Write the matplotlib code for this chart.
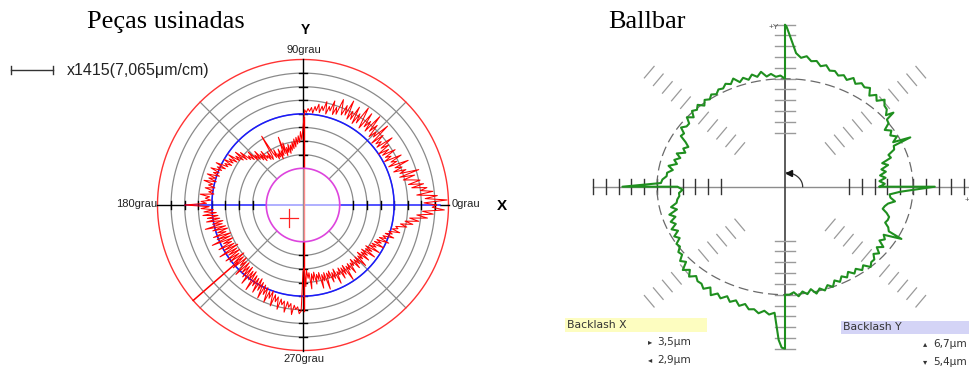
import numpy as np
import matplotlib
matplotlib.use("Agg")
import matplotlib.pyplot as plt
from matplotlib.lines import Line2D
from matplotlib.patches import Rectangle, Circle

# ---------------- data ----------------
# Left chart ("Peças usinadas"): radii in grid divisions
RING_MAGENTA = 2.7
GRID_RINGS = [3.7, 4.7, 5.7, 6.7, 7.7, 8.7, 9.7]
RING_NOMINAL = 6.7          # blue circle
RING_OUTER = 10.7           # red outer circle
LEFT_ANGLE_STEP = 1         # degrees between samples
LEFT_Q1 = [9.8, 8.9, 10.6, 9.0, 9.9, 8.4, 9.6, 8.7, 9.2, 8.1,
           9.0, 7.9, 8.8, 8.2, 7.6, 8.5, 7.4, 8.9, 7.5, 8.0,
           7.1, 7.8, 7.3, 8.4, 6.9, 7.6, 7.2, 8.1, 6.8, 7.4,
           7.0, 7.9, 6.9, 7.5, 6.7, 7.7, 7.1, 8.2, 6.9, 7.4,
           7.0, 7.8, 6.8, 8.5, 7.2, 7.6, 7.0, 8.0, 7.3, 8.6,
           7.1, 7.9, 7.3, 8.4, 7.0, 7.7, 8.6, 7.2, 7.9, 7.0,
           8.3, 7.2, 7.8, 7.1, 8.5, 7.3, 8.0, 7.2, 7.7, 8.3,
           7.1, 7.6, 7.0, 8.0, 7.2, 7.5, 6.9, 7.8, 7.1, 7.4,
           6.9, 7.5, 7.0, 7.3, 6.8, 7.2, 6.9, 7.1, 6.8, 7.0]
LEFT_Q2 = [5.7, 4.8, 5.4, 4.6, 5.1, 4.5, 5.0, 4.3, 4.9, 4.2,
           4.7, 4.1, 4.5, 3.9, 4.6, 4.0, 4.4, 3.8, 4.8, 4.0,
           5.3, 3.9, 4.3, 3.7, 4.5, 3.9, 4.2, 3.8, 4.6, 4.0,
           4.4, 5.9, 4.2, 4.0, 4.7, 4.1, 4.5, 4.3, 5.0, 4.2,
           4.9, 4.4, 5.3, 4.6, 5.1, 4.7, 5.6, 4.9, 5.4, 5.1,
           6.0, 5.3, 6.3, 5.5, 6.1, 5.7, 6.6, 5.8, 6.4, 6.0,
           6.7, 6.0, 6.5, 6.2, 7.1, 6.3, 6.9, 6.5, 7.3, 6.6,
           7.0, 6.5, 7.4, 6.7, 7.2, 6.6, 7.5, 6.8, 7.1, 6.6,
           7.3, 6.7, 7.0, 6.6, 7.6, 6.9, 7.2, 6.8, 7.5, 7.1]
LEFT_Q3 = [8.7, 6.9, 7.5, 6.6, 7.3, 6.4, 7.4, 6.3, 7.1, 6.2,
           7.2, 6.0, 6.8, 6.1, 7.4, 5.9, 6.9, 5.8, 6.6, 6.0,
           7.0, 5.7, 6.8, 5.8, 7.3, 5.7, 6.5, 5.9, 7.0, 5.8,
           6.7, 5.6, 7.2, 5.8, 6.6, 5.7, 7.0, 5.9, 6.8, 5.6,
           6.6, 5.8, 6.9, 5.7, 6.4, 5.9, 7.1, 5.8, 6.7, 6.0,
           6.9, 5.9, 7.3, 6.1, 6.8, 6.0, 7.5, 6.2, 7.0, 6.3,
           7.4, 6.2, 7.1, 6.4, 7.6, 6.5, 7.2, 6.6, 7.7, 6.8,
           7.3, 6.7, 7.8, 6.9, 7.4, 7.0, 7.9, 7.1, 7.5, 7.2,
           8.0, 7.2, 7.6, 7.3, 8.1, 7.4, 7.7, 7.5, 8.0, 7.8]
LEFT_Q4 = [4.9, 4.6, 6.0, 4.8, 5.4, 5.0, 6.2, 5.1, 5.6, 5.0,
           5.9, 5.2, 5.6, 5.1, 6.3, 5.3, 5.8, 5.2, 6.5, 5.3,
           5.7, 5.2, 6.1, 5.4, 5.9, 5.2, 6.4, 5.5, 5.8, 5.3,
           6.2, 5.4, 6.0, 5.3, 6.6, 5.5, 5.9, 5.4, 6.3, 5.5,
           5.8, 5.3, 6.2, 5.5, 6.0, 5.4, 6.4, 5.5, 5.9, 5.3,
           6.3, 5.5, 6.0, 5.4, 6.5, 5.6, 6.1, 5.5, 6.6, 5.7,
           6.2, 5.8, 6.7, 5.9, 6.4, 6.0, 6.9, 6.1, 6.6, 6.3,
           7.1, 6.4, 6.9, 6.6, 7.4, 6.8, 7.2, 7.0, 7.8, 7.3,
           8.2, 7.6, 8.6, 7.9, 9.2, 8.4, 9.6, 8.8, 10.4, 9.5]
LEFT_JUMP_Y = [6.5, -7.8]          # red trace jump along the Y axis
LEFT_SPIKE_ANGLE = 221
LEFT_SPIKE_R = [6.4, 10.7]
BLUE_AXIS_X = [-8.65, 10.1]
CENTER_CROSS = (-1.06, -0.99)
LEFT_LABELS = ["0grau", "90grau", "180grau", "270grau"]
SCALE_TEXT = "x1415(7,065μm/cm)"

# Right chart ("Ballbar"): radii in scale units (nominal circle = 10)
BALL_NOMINAL = 10
BALL_TICKS = list(range(5, 16))
BALL_HATCH = [5, 6, 7, 8, 9, 11, 12, 13, 14, 15]
BALL_ANG_Q1 = [0, 2, 4, 6, 8, 10, 12, 14, 16, 18, 20, 22, 24, 25, 26, 28, 30, 32, 34, 36,
               38, 39, 40, 42, 44, 46, 48, 50, 52, 54, 56, 58, 60, 62, 64, 66, 68, 70, 72,
               74, 76, 78, 80, 82, 84, 86, 87.6, 89.5, 90]
BALL_R_Q1 = [7.4, 7.8, 7.4, 7.9, 7.5, 8.0, 7.7, 8.3, 7.9, 8.7, 8.6, 9.2, 9.3, 10.8, 9.4,
             9.9, 9.5, 9.8, 9.4, 10.0, 10.1, 10.9, 10.3, 10.7, 10.8, 11.2, 10.7, 11.1, 10.7,
             11.3, 11.1, 11.3, 11.0, 11.4, 11.0, 11.3, 11.1, 11.4, 11.3, 11.7, 11.5, 11.9,
             11.8, 12.2, 12.0, 12.4, 13.4, 14.8, 15.0]
BALL_ANG_Q2 = [90, 92, 94, 96, 98, 100, 102, 104, 106, 108, 110, 112, 114, 116, 118, 120,
               122, 124, 126, 128, 130, 132, 134, 136, 138, 140, 142, 144, 146, 148, 150,
               152, 154, 156, 158, 160, 162, 164, 166, 168, 170, 172, 174, 176, 178, 180, 180]
BALL_R_Q2 = [10.0, 10.3, 10.2, 10.5, 10.3, 10.8, 10.4, 10.7, 10.3, 10.6, 10.3, 10.8, 10.4,
             10.6, 10.3, 10.4, 10.1, 10.3, 10.0, 10.2, 9.8, 10.2, 9.9, 10.1, 9.6, 10.0, 9.5,
             9.5, 9.8, 9.3, 9.4, 8.8, 8.4, 8.7, 8.4, 9.0, 8.6, 9.0, 8.7, 9.3, 8.9, 9.3, 9.3,
             9.6, 9.7, 12.7, 8.4]
BALL_ANG_Q3 = [182, 184, 186, 188, 190, 192, 194, 196, 198, 200, 202, 204, 206, 208, 210,
               212, 214, 216, 218, 220, 222, 224, 226, 228, 230, 232, 234, 236, 238, 240,
               242, 244, 246, 248, 250, 252, 254, 256, 258, 260, 262, 264, 266, 268, 269,
               270, 270]
BALL_R_Q3 = [8.0, 8.3, 8.3, 8.5, 8.6, 9.1, 8.7, 9.4, 9.0, 9.5, 9.2, 9.7, 9.3, 9.8, 9.5, 10.0,
             9.9, 10.3, 10.2, 10.7, 10.4, 11.1, 10.7, 11.2, 10.8, 11.1, 11.1, 11.4, 11.0,
             11.6, 11.2, 11.5, 11.1, 11.5, 11.2, 11.6, 11.3, 11.7, 11.6, 11.9, 11.6, 11.9,
             11.7, 14.2, 14.9, 15.0, 10.0]
BALL_ANG_Q4 = [272, 274, 276, 278, 280, 282, 284, 286, 288, 290, 292, 294, 296, 298, 300,
               302, 304, 306, 308, 310, 312, 314, 316, 318, 320, 322, 324, 326, 328, 330,
               332, 333, 335, 337, 339, 341, 343, 345, 347, 349, 351, 353, 355, 357, 360, 360]
BALL_R_Q4 = [10.0, 9.8, 10.2, 9.8, 10.1, 9.7, 10.2, 9.8, 10.1, 9.7, 10.0, 9.5, 9.8, 9.4, 9.7,
             9.3, 9.7, 9.4, 9.8, 9.5, 10.0, 9.7, 9.7, 9.3, 9.6, 9.1, 9.5, 8.9, 9.2, 8.9, 10.3,
             9.1, 8.9, 8.5, 8.6, 8.6, 8.3, 7.9, 8.0, 8.2, 8.7, 8.3, 8.2, 9.0, 11.7, 7.4]
BACKLASH_X = ["3,5μm", "2,9μm"]
BACKLASH_Y = ["6,7μm", "5,4μm"]

# ---------------- figure ----------------
W, H = 969, 367
fig = plt.figure(figsize=(W / 100, H / 100), dpi=100)


def fx(px):
    return px / W


def fy(py):
    return 1 - py / H


SANS = ["Liberation Sans", "DejaVu Sans"]
SERIF = ["Liberation Serif", "DejaVu Serif"]

# ======== left polar chart ========
L_CX, L_CY, L_S, L_HALF = 303, 205, 13.6, 11.25
axL = fig.add_axes([fx(L_CX - L_HALF * L_S), fy(L_CY + L_HALF * L_S),
                    2 * L_HALF * L_S / W, 2 * L_HALF * L_S / H])
axL.set_xlim(-L_HALF, L_HALF)
axL.set_ylim(-L_HALF, L_HALF)
axL.axis("off")

th = np.linspace(0, 2 * np.pi, 721)
for r in GRID_RINGS:
    axL.plot(r * np.cos(th), r * np.sin(th), color="#8a8a8a", lw=0.9, zorder=1)
for a in (45, 135, 225, 315):
    ar = np.radians(a)
    axL.plot([RING_MAGENTA * np.cos(ar), RING_OUTER * np.cos(ar)],
             [RING_MAGENTA * np.sin(ar), RING_OUTER * np.sin(ar)],
             color="#8a8a8a", lw=0.9, zorder=1)
axL.plot(RING_OUTER * np.cos(th), RING_OUTER * np.sin(th), color="#ff3333", lw=1.0, zorder=2)
# axes lines
axL.plot([-RING_OUTER, BLUE_AXIS_X[0]], [0, 0], color="black", lw=1.0, zorder=2)
axL.plot([BLUE_AXIS_X[1], RING_OUTER], [0, 0], color="black", lw=1.0, zorder=2)
axL.plot(BLUE_AXIS_X, [0, 0], color="#2020ff", lw=1.1, zorder=2)
axL.plot([0, 0], [-RING_OUTER, RING_OUTER], color="black", lw=1.0, zorder=2)
for r in GRID_RINGS:
    for s in (-1, 1):
        axL.plot([s * r, s * r], [-0.27, 0.27], color="black", lw=1.0, zorder=2)
        axL.plot([-0.27, 0.27], [s * r, s * r], color="black", lw=1.0, zorder=2)
axL.plot(RING_NOMINAL * np.cos(th), RING_NOMINAL * np.sin(th), color="#1a1aff", lw=1.1, zorder=3)

# red trace
left_r = np.array(LEFT_Q1 + LEFT_Q2 + LEFT_Q3 + LEFT_Q4 + [LEFT_Q1[0]])
left_a = np.radians(np.arange(len(left_r)) * LEFT_ANGLE_STEP)
axL.plot(left_r * np.cos(left_a), left_r * np.sin(left_a), color="#ff0000", lw=0.75, zorder=4)
axL.plot([0.05, 0.05], LEFT_JUMP_Y, color="#ff0000", lw=1.0, zorder=4)
sa = np.radians(LEFT_SPIKE_ANGLE)
axL.plot(np.array(LEFT_SPIKE_R) * np.cos(sa), np.array(LEFT_SPIKE_R) * np.sin(sa),
         color="#ff0000", lw=1.1, zorder=4)
# faded inner disc, magenta ring, centre cross
axL.add_patch(Circle((0, 0), RING_MAGENTA, facecolor="white", edgecolor="none", alpha=0.55, zorder=5))
axL.plot(RING_MAGENTA * np.cos(th), RING_MAGENTA * np.sin(th), color="#dd44dd", lw=1.2, zorder=6)
cx, cy = CENTER_CROSS
axL.plot([cx - 0.66, cx + 0.66], [cy, cy], color="#ff2222", lw=0.9, zorder=7)
axL.plot([cx, cx], [cy - 0.66, cy + 0.66], color="#ff2222", lw=0.9, zorder=7)

axL.text(0.05, 11.4, LEFT_LABELS[1], ha="center", va="center", fontsize=8, family=SANS, color="#222222")
axL.text(0.1, -11.35, LEFT_LABELS[3], ha="center", va="center", fontsize=8, family=SANS, color="#222222")
axL.text(-10.75, 0.05, LEFT_LABELS[2], ha="right", va="center", fontsize=8, family=SANS, color="#222222")
axL.text(10.95, 0.05, LEFT_LABELS[0], ha="left", va="center", fontsize=8, family=SANS, color="#222222")
axL.text(0.15, 12.9, "Y", ha="center", va="center", fontsize=10, fontweight="bold", family=SANS)
axL.text(14.6, -0.1, "X", ha="center", va="center", fontsize=11, fontweight="bold", family=SANS)

# title and scale bar
fig.text(fx(166), fy(22), "Peças usinadas", ha="center", va="center", fontsize=19, family=SERIF)
fig.add_artist(Line2D([fx(11), fx(53)], [fy(70), fy(70)], color="#333333", lw=1.0))
for xp in (11, 53):
    fig.add_artist(Line2D([fx(xp), fx(xp)], [fy(66), fy(74)], color="#333333", lw=1.0))
fig.text(fx(67), fy(70), SCALE_TEXT, ha="left", va="center", fontsize=11.5, family=SANS, color="#222222")

# ======== right ballbar chart ========
R_CX, R_CY, SX, SY = 785, 186.7, 12.8, 10.8
bx0, bx1, by0, by1 = 585, 969, 18, 356
axR = fig.add_axes([fx(bx0), fy(by1), (bx1 - bx0) / W, (by1 - by0) / H])
axR.set_xlim((bx0 - R_CX) / SX, (bx1 - R_CX) / SX)
axR.set_ylim((R_CY - by1) / SY, (R_CY - by0) / SY)
axR.axis("off")

# diagonal scale marks (short strokes across each 45-degree direction)
HALF_PX = 7.5
for a in (45, 135, 225, 315):
    ar = np.radians(a)
    dx_px, dy_px = SX * np.cos(ar), SY * np.sin(ar)
    n = np.hypot(dx_px, dy_px)
    px_, py_ = -dy_px / n, dx_px / n          # perpendicular in pixel space
    hx, hy = px_ * HALF_PX / SX, py_ * HALF_PX / SY
    for r in BALL_HATCH:
        x0, y0 = r * np.cos(ar), r * np.sin(ar)
        axR.plot([x0 - hx, x0 + hx], [y0 - hy, y0 + hy], color="#9a9a9a", lw=0.9, zorder=1)

axR.plot([-BALL_TICKS[-1], BALL_TICKS[-1] + 1], [0, 0], color="#8c8c8c", lw=1.0, zorder=2, clip_on=False)
axR.plot([0, 0], [-BALL_TICKS[-1], BALL_TICKS[-1]], color="#404040", lw=1.2, zorder=2)
for r in BALL_TICKS:
    for s in (-1, 1):
        axR.plot([s * r, s * r], [-7.5 / SY, 7.5 / SY], color="#333333", lw=1.0, zorder=2, clip_on=False)
        axR.plot([-10 / SX, 10 / SX], [s * r, s * r], color="#9a9a9a", lw=1.0, zorder=2)
axR.plot(BALL_NOMINAL * np.cos(th), BALL_NOMINAL * np.sin(th), color="#6a6a6a", lw=0.9,
         dashes=(8, 4), zorder=2)
# angle arrow
arc = np.linspace(0, np.radians(84), 40)
axR.plot(1.38 * np.cos(arc), 1.32 * np.sin(arc), color="#333333", lw=0.9, zorder=3)
axR.plot([0.28], [1.3], marker="<", color="#111111", markersize=4, zorder=3)

ball_a = np.radians(np.array(BALL_ANG_Q1 + BALL_ANG_Q2 + BALL_ANG_Q3 + BALL_ANG_Q4))
ball_r = np.array(BALL_R_Q1 + BALL_R_Q2 + BALL_R_Q3 + BALL_R_Q4)
axR.plot(ball_r * np.cos(ball_a), ball_r * np.sin(ball_a), color="#1f8f1f", lw=1.5, zorder=4)

axR.text(-0.45, 14.75, "+Y", ha="right", va="center", fontsize=6, color="#555555", family=SANS)
axR.text(14.05, -1.25, "+", ha="left", va="center", fontsize=6, color="#555555", family=SANS)

fig.text(fx(647), fy(22), "Ballbar", ha="center", va="center", fontsize=19, family=SERIF)

# backlash boxes
fig.add_artist(Rectangle((fx(565), fy(332)), (707 - 565) / W, 14 / H, transform=fig.transFigure,
                         facecolor="#fdfdc0", edgecolor="none"))
fig.add_artist(Rectangle((fx(841), fy(334)), (969 - 841) / W, 13 / H, transform=fig.transFigure,
                         facecolor="#d4d4f6", edgecolor="none"))
TXT = "#333333"
fig.text(fx(567), fy(325), "Backlash X", ha="left", va="center", fontsize=7.8, color=TXT)
fig.text(fx(843), fy(327.5), "Backlash Y", ha="left", va="center", fontsize=7.8, color=TXT)
fig.text(fx(648), fy(342), "▸", ha="left", va="center", fontsize=6, color=TXT)
fig.text(fx(657), fy(342), BACKLASH_X[0], ha="left", va="center", fontsize=7.6, color=TXT)
fig.text(fx(648), fy(360), "◂", ha="left", va="center", fontsize=6, color=TXT)
fig.text(fx(657), fy(360), BACKLASH_X[1], ha="left", va="center", fontsize=7.6, color=TXT)
fig.text(fx(923), fy(344), "▴", ha="left", va="center", fontsize=6, color=TXT)
fig.text(fx(933), fy(344), BACKLASH_Y[0], ha="left", va="center", fontsize=7.6, color=TXT)
fig.text(fx(923), fy(362), "▾", ha="left", va="center", fontsize=6, color=TXT)
fig.text(fx(933), fy(362), BACKLASH_Y[1], ha="left", va="center", fontsize=7.6, color=TXT)

fig.savefig("out.png", dpi=100)
